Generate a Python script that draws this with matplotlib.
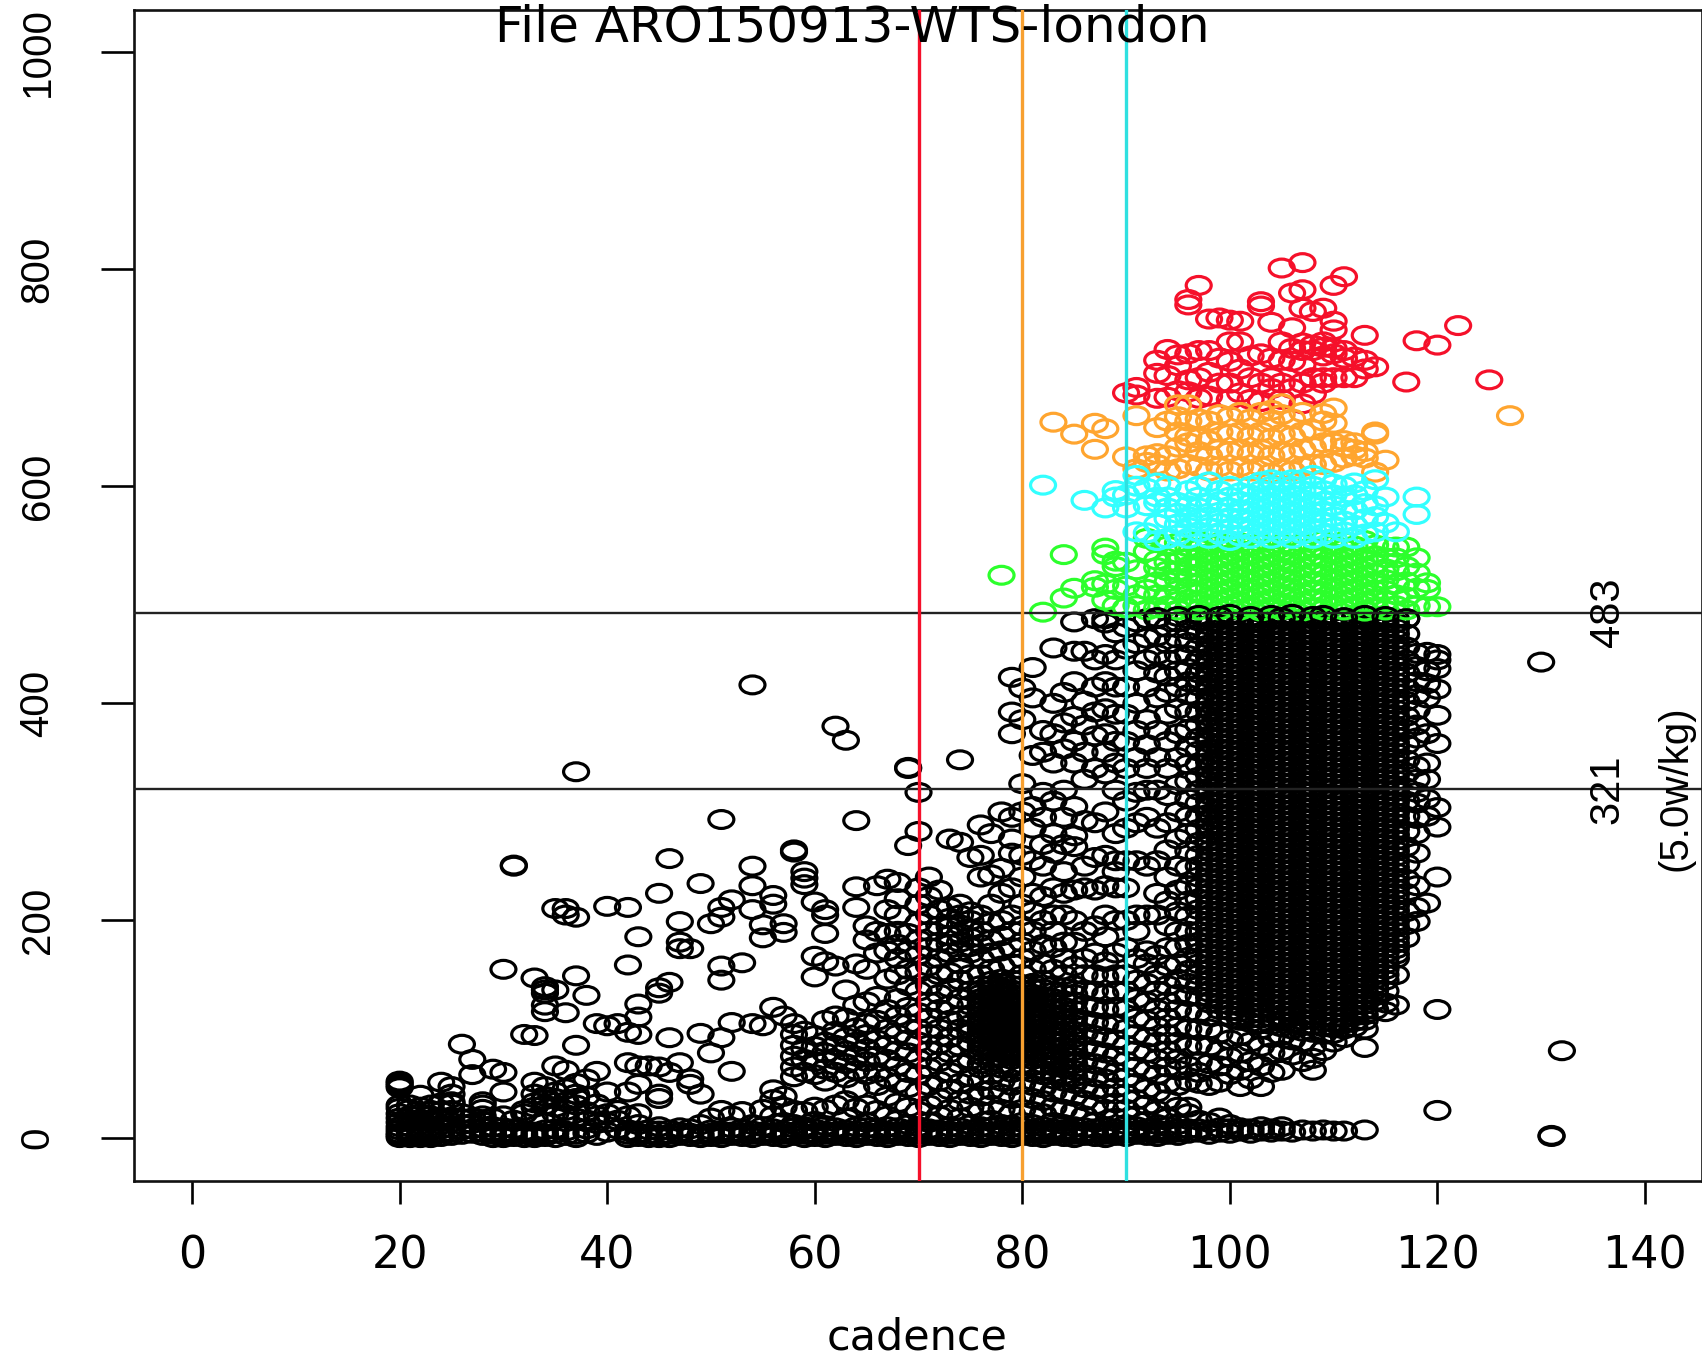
import re
import matplotlib
matplotlib.use("Agg")
import matplotlib.pyplot as plt
from matplotlib.markers import MarkerStyle
from matplotlib.transforms import Affine2D

# ---- values: power readings per cadence ----
title_text = "File ARO150913-WTS-london"
x_ticks = [0, 20, 40, 60, 80, 100, 120, 140]
y_ticks = [0, 200, 400, 600, 800, 1000]
vlines_cadence = [70, 80, 90]
vlines_colour = ["#f5102a", "#f7a030", "#2fe0e0"]
hlines_power = [483, 321]

# black points
k20 = [0, 2, 4, 7, 10, 14, 18, 22, 27, 30, 46, 48, 50, 52]
k21 = [0, 3, 6, 10, 15, 20, 26, 30]
k22 = [0, 2, 5, 8, 12, 17, 22, 28, 39]
k23 = [0, 1, 3, 6, 10, 15, 20, 25, 30]
k24 = [1, 4, 8, 12, 18, 24, 32, 51]
k25 = [2, 5, 9, 14, 19, 25, 31, 33, 40, 47]
k26 = [3, 7, 12, 17, 22, 86]
k27 = [4, 8, 13, 18, 58, 72]
k28 = [2, 5, 9, 15, 20, 26, 30, 33]
k29 = [0, 3, 6, 10, 18, 63]
k30 = [0, 2, 5, 9, 20, 42, 60, 155]
k31 = [1, 4, 8, 16, 250, 251]
k32 = [0, 3, 6, 22, 25, 95]
k33 = [0, 2, 5, 18, 28, 32, 40, 51, 94, 147]
k34 = [1, 3, 7, 30, 35, 38, 47, 116, 122, 133, 136, 139]
k35 = [0, 4, 8, 22, 28, 36, 42, 66, 136, 211]
k36 = [2, 6, 20, 25, 33, 45, 62, 115, 205, 211]
k37 = [0, 3, 18, 30, 36, 40, 50, 85, 149, 203, 337]
k38 = [4, 8, 15, 24, 38, 54, 131]
k39 = [2, 13, 20, 31, 61, 105]
k40 = [5, 14, 22, 42, 103, 213]
k41 = [8, 16, 25, 105]
k42 = [0, 3, 6, 20, 42, 69, 97, 159, 212]
k43 = [1, 4, 12, 22, 49, 66, 95, 111, 123, 185]
k44 = [0, 3, 7, 66]
k45 = [0, 2, 6, 10, 36, 40, 65, 133, 138, 225]
k46 = [0, 3, 7, 60, 92, 143, 257]
k47 = [2, 5, 9, 69, 174, 180, 199]
k48 = [1, 4, 8, 49, 54, 174]
k49 = [0, 3, 12, 40, 96, 234]
k50 = [1, 4, 7, 18, 78, 197]
k51 = [0, 3, 6, 25, 92, 145, 158, 203, 212, 293]
k52 = [2, 5, 9, 20, 61, 106, 219]
k53 = [1, 4, 8, 24, 161]
k54 = [0, 3, 6, 12, 105, 210, 232, 250, 417]
k55 = [2, 5, 10, 26, 103, 184, 196]
k56 = [1, 4, 8, 20, 35, 44, 120, 215, 223]
k57 = [0, 3, 6, 14, 28, 38, 112, 189, 197]
k58 = [2, 5, 9, 12, 25, 56, 65, 75, 85, 95, 105, 263, 265]
k59 = [0, 3, 7, 10, 24, 60, 72, 82, 98, 233, 239, 245]
k60 = [1, 4, 8, 15, 28, 58, 70, 84, 94, 148, 167, 217]
k61 = [0, 3, 6, 11, 26, 52, 63, 78, 88, 108, 162, 188, 205, 210]
k62 = [2, 5, 9, 30, 60, 72, 85, 98, 112, 158, 379]
k63 = [1, 4, 7, 18, 34, 55, 68, 80, 92, 110, 136, 366]
k64 = [0, 3, 6, 10, 27, 45, 62, 75, 88, 101, 122, 160, 212, 231, 292]
k65 = [2, 5, 9, 14, 30, 58, 70, 82, 95, 105, 125, 155, 182, 195]
k66 = [1, 4, 8, 25, 48, 60, 75, 90, 108, 130, 170, 190, 232]
k67 = [0, 3, 6, 10, 20, 38, 55, 72, 85, 100, 118, 146, 172, 188, 210, 238]
k68 = [2, 5, 9, 16, 32, 50, 66, 80, 95, 112, 128, 150, 165, 178, 190, 205, 220, 235]
k69 = [1, 4, 7, 12, 28, 46, 60, 78, 90, 105, 120, 140, 155, 172, 188, 269, 340, 341]
k70 = [0, 3, 6, 10, 24, 42, 58, 72, 88, 100, 115, 135, 152, 168, 182, 198, 215, 230, 282, 318]
k71 = [2, 5, 8, 14, 30, 48, 64, 80, 95, 110, 125, 140, 158, 175, 190, 205, 222, 240]
k72 = [1, 4, 7, 20, 36, 52, 70, 86, 100, 118, 132, 150, 165, 180, 195, 210, 228]
k73 = [0, 3, 6, 10, 26, 44, 60, 78, 92, 108, 122, 138, 152, 170, 178, 186, 194, 202, 212, 275]
k74 = [2, 5, 9, 18, 34, 50, 68, 84, 100, 112, 128, 145, 160, 172, 180, 188, 196, 205, 215, 272, 348]
k75 = [1, 4, 7, 12, 28, 40, 56, 72, 88, 96, 104, 112, 122, 135, 150, 170, 176, 184, 192, 200, 208, 258]
k76 = [0, 3, 6, 10, 24, 38, 52, 64, 76, 84, 92, 100, 108, 116, 124, 132, 140, 150, 165, 178, 190, 205, 240, 260, 288]
k77 = [2, 5, 9, 16, 30, 44, 58, 70, 80, 88, 96, 104, 112, 120, 128, 136, 144, 155, 170, 182, 198, 215, 242, 280]
k78 = [1, 4, 7, 12, 26, 40, 52, 64, 74, 82, 90, 98, 106, 114, 122, 130, 138, 146, 158, 172, 186, 200, 225, 248, 300]
k79 = [0, 3, 6, 10, 22, 36, 48, 60, 72, 80, 88, 96, 104, 112, 120, 128, 136, 145, 160, 175, 190, 205, 230, 262, 275, 295, 372, 392, 424]
k80 = [2, 5, 9, 14, 26, 38, 50, 62, 74, 82, 90, 98, 106, 114, 122, 130, 140, 150, 165, 180, 195, 215, 240, 260, 300, 326, 385, 414]
k81 = [1, 4, 7, 12, 24, 36, 48, 60, 72, 84, 92, 100, 108, 116, 124, 132, 142, 155, 172, 190, 208, 225, 255, 285, 305, 352, 405, 433]
k82 = [0, 3, 6, 10, 22, 34, 46, 58, 68, 80, 90, 100, 110, 120, 130, 145, 160, 178, 200, 222, 250, 270, 295, 318, 355, 375]
k83 = [2, 5, 8, 14, 28, 42, 54, 66, 76, 88, 98, 108, 118, 128, 140, 155, 175, 190, 205, 230, 262, 280, 310, 345, 372, 400, 451]
k84 = [1, 4, 7, 12, 26, 40, 52, 64, 78, 90, 102, 114, 126, 138, 150, 165, 180, 205, 225, 245, 270, 295, 320, 358, 382, 410]
k85 = [0, 3, 6, 10, 24, 38, 50, 62, 74, 86, 98, 110, 125, 140, 158, 180, 200, 228, 268, 278, 305, 345, 365, 388, 420, 448, 475]
k86 = [2, 5, 9, 20, 34, 46, 58, 70, 84, 96, 108, 122, 136, 150, 165, 190, 230, 250, 292, 330, 355, 380, 402, 448]
k87 = [1, 4, 8, 14, 30, 44, 56, 68, 80, 94, 106, 120, 135, 150, 170, 195, 228, 258, 290, 340, 370, 392, 415, 440, 478]
k88 = [0, 3, 6, 10, 26, 40, 54, 66, 78, 92, 104, 118, 132, 148, 162, 185, 205, 232, 260, 300, 335, 355, 372, 395, 420, 445, 474, 478]
k89 = [2, 5, 8, 18, 32, 46, 60, 75, 90, 105, 120, 135, 150, 170, 200, 230, 245, 255, 280, 320, 345, 365, 390, 415, 440, 465]
k90 = [1, 4, 7, 12, 26, 40, 55, 70, 85, 100, 118, 135, 150, 175, 200, 230, 255, 285, 310, 340, 365, 390, 415, 450, 470]
k91 = [3, 6, 10, 20, 35, 50, 65, 80, 95, 110, 128, 145, 165, 190, 205, 255, 290, 318, 350, 375, 400, 430, 455, 475]
k92 = [2, 5, 8, 15, 30, 45, 62, 78, 92, 108, 125, 142, 160, 172, 205, 250, 295, 320, 340, 362, 385, 415, 440, 460, 478]
k93 = [1, 4, 7, 12, 25, 42, 58, 72, 88, 102, 118, 135, 150, 168, 205, 225, 255, 285, 320, 350, 375, 405, 428, 445, 462, 478]
k94 = [3, 6, 10, 18, 35, 50, 65, 80, 95, 110, 125, 140, 158, 175, 195, 218, 240, 265, 290, 315, 340, 365, 390, 410, 425, 440, 455, 470]
k95 = [2, 5, 8, 12, 28, 48, 62, 72, 88, 102, 118, 132, 146, 160, 175, 190, 208, 228, 250, 275, 300, 325, 350, 372, 395, 415, 430, 445, 460, 475]
k96 = [4, 8, 22, 28, 52, 66, 84, 100, 116, 130, 142, 154, 166, 178, 190, 204, 218, 232, 248, 264, 280, 296, 312, 328, 344, 360, 376, 392, 408, 420, 432, 444, 456, 468, 478]
k97 = [5, 8, 16, 50, 60, 70, 85, 100, 115, 130, 140, 150, 160, 170, 180, 190, 200, 210, 220, 230, 240, 250, 260, 272, 284, 296, 308, 320, 332, 344, 356, 368, 380, 392, 404, 416, 428, 440, 452, 464, 476]
k98 = [3, 7, 14, 48, 68, 84, 100, 112, 124, 134, 144, 154, 164, 174, 184, 194, 204, 214, 224, 234, 244, 254, 264, 274, 286, 298, 310, 322, 334, 346, 358, 370, 382, 394, 406, 418, 430, 442, 454, 466, 478]
k99 = [5, 9, 18, 51, 66, 80, 96, 118, 128, 138, 148, 158, 168, 178, 188, 198, 208, 218, 228, 238, 248, 258, 268, 278, 288, 298, 308, 318, 328, 338, 348, 358, 368, 378, 388, 398, 408, 418, 428, 438, 448, 458, 468, 478]
k100 = [4, 8, 12, 58, 74, 90, 112, 122, 132, 142, 152, 162, 172, 182, 192, 202, 212, 222, 232, 242, 252, 262, 272, 282, 292, 302, 312, 322, 332, 342, 352, 362, 372, 382, 392, 402, 412, 422, 432, 442, 452, 462, 472]
k101 = [6, 9, 47, 62, 78, 94, 108, 116, 126, 136, 146, 156, 166, 176, 186, 196, 206, 216, 226, 236, 246, 256, 266, 276, 286, 296, 306, 316, 326, 336, 346, 356, 366, 376, 386, 396, 406, 416, 426, 436, 446, 456, 466, 476]
k102 = [4, 8, 54, 70, 88, 106, 114, 124, 134, 144, 154, 164, 174, 184, 194, 204, 214, 224, 234, 244, 254, 264, 274, 284, 294, 304, 314, 324, 334, 344, 354, 364, 374, 384, 394, 404, 414, 424, 434, 444, 454, 464, 474]
k103 = [6, 10, 47, 66, 84, 100, 110, 120, 130, 140, 150, 160, 170, 180, 190, 200, 210, 220, 230, 240, 250, 260, 270, 280, 290, 300, 310, 320, 330, 340, 350, 360, 370, 380, 390, 400, 410, 420, 430, 440, 450, 460, 470, 478]
k104 = [5, 8, 60, 78, 92, 104, 118, 128, 138, 148, 158, 168, 178, 188, 198, 208, 218, 228, 238, 248, 258, 268, 278, 288, 298, 308, 318, 328, 338, 348, 358, 368, 378, 388, 398, 408, 418, 428, 438, 448, 458, 468, 478]
k105 = [6, 10, 62, 80, 94, 102, 112, 122, 132, 142, 152, 162, 172, 182, 192, 202, 212, 222, 232, 242, 252, 262, 272, 282, 292, 302, 312, 322, 332, 342, 352, 362, 372, 382, 392, 402, 412, 422, 432, 442, 452, 462, 472]
k106 = [5, 76, 90, 100, 106, 116, 126, 136, 146, 156, 166, 176, 186, 196, 206, 216, 226, 236, 246, 256, 266, 276, 286, 296, 306, 316, 326, 336, 346, 356, 366, 376, 386, 396, 406, 416, 426, 436, 446, 456, 466, 476]
k107 = [7, 70, 88, 98, 108, 118, 128, 138, 148, 158, 168, 178, 188, 198, 208, 218, 228, 238, 248, 258, 268, 278, 288, 298, 308, 318, 328, 338, 348, 358, 368, 378, 388, 398, 408, 418, 428, 438, 448, 458, 468, 478]
k108 = [6, 62, 73, 84, 97, 104, 114, 124, 134, 144, 154, 164, 174, 184, 194, 204, 214, 224, 234, 244, 254, 264, 274, 284, 294, 304, 314, 324, 334, 344, 354, 364, 374, 384, 394, 404, 414, 424, 434, 444, 454, 464, 474]
k109 = [7, 80, 95, 102, 112, 122, 132, 142, 152, 162, 172, 182, 192, 202, 212, 222, 232, 242, 252, 262, 272, 282, 292, 302, 312, 322, 332, 342, 352, 362, 372, 382, 392, 402, 412, 422, 432, 442, 452, 462, 472, 478]
k110 = [6, 88, 96, 106, 116, 126, 136, 146, 156, 166, 176, 186, 196, 206, 216, 226, 236, 246, 256, 266, 276, 286, 296, 306, 316, 326, 336, 346, 356, 366, 376, 386, 396, 406, 416, 426, 436, 446, 456, 466, 476]
k111 = [6, 92, 100, 110, 120, 130, 140, 150, 160, 170, 180, 190, 200, 210, 220, 230, 240, 250, 260, 270, 280, 290, 300, 310, 320, 330, 340, 350, 360, 370, 380, 390, 400, 410, 420, 430, 440, 450, 460, 470, 478]
k112 = [102, 112, 122, 132, 142, 152, 162, 172, 182, 192, 202, 212, 222, 232, 242, 252, 262, 272, 282, 292, 302, 312, 322, 332, 342, 352, 362, 372, 382, 392, 402, 412, 422, 432, 442, 452, 462, 472]
k113 = [7, 83, 100, 108, 118, 128, 138, 148, 158, 168, 178, 188, 198, 208, 218, 228, 238, 248, 258, 268, 278, 288, 298, 308, 318, 328, 338, 348, 358, 368, 378, 388, 398, 408, 418, 428, 438, 448, 458, 468, 478]
k114 = [118, 126, 136, 146, 156, 166, 176, 186, 196, 206, 216, 226, 236, 246, 256, 266, 276, 286, 296, 306, 316, 326, 336, 346, 356, 366, 376, 386, 396, 406, 416, 426, 436, 446, 456, 466, 476]
k115 = [116, 124, 135, 150, 160, 170, 180, 190, 200, 210, 220, 230, 240, 250, 260, 270, 280, 290, 300, 310, 320, 330, 340, 350, 360, 370, 380, 390, 400, 410, 420, 430, 440, 450, 460, 470, 478]
k116 = [122, 150, 165, 174, 184, 194, 204, 214, 224, 234, 244, 254, 264, 274, 284, 294, 304, 314, 324, 334, 344, 354, 364, 374, 384, 394, 404, 414, 424, 434, 444, 454, 464, 474]
k117 = [184, 196, 208, 225, 238, 252, 268, 282, 296, 310, 322, 336, 348, 362, 376, 388, 402, 414, 428, 440, 452, 464, 478]
k118 = [199, 212, 232, 262, 280, 294, 308, 318, 330, 342, 368, 380, 394, 408, 420, 434, 446]
k119 = [216, 296, 312, 330, 345, 372, 405, 418, 430, 447]
k120 = [25, 118, 240, 286, 304, 363, 389, 413, 432, 440, 445]
k130 = [438]
k131 = [1, 2]
k132 = [80]

# further black readings in the solid part of the cloud
kb98 = [129, 139, 149, 159, 169, 179, 189, 199, 209, 219, 229, 239, 249, 259, 269, 280, 292, 304, 316, 328, 340, 352, 364, 376, 388, 400, 412, 424, 436, 448, 460, 472]
kb99 = [123, 133, 143, 153, 163, 173, 183, 193, 203, 213, 223, 233, 243, 253, 263, 273, 283, 293, 303, 313, 323, 333, 343, 353, 363, 373, 383, 393, 403, 413, 423, 433, 443, 453, 463, 473]
kb100 = [117, 127, 137, 147, 157, 167, 177, 187, 197, 207, 217, 227, 237, 247, 257, 267, 277, 287, 297, 307, 317, 327, 337, 347, 357, 367, 377, 387, 397, 407, 417, 427, 437, 447, 457, 467, 477]
kb101 = [112, 121, 131, 141, 151, 161, 171, 181, 191, 201, 211, 221, 231, 241, 251, 261, 271, 281, 291, 301, 311, 321, 331, 341, 351, 361, 371, 381, 391, 401, 411, 421, 431, 441, 451, 461, 471]
kb102 = [110, 119, 129, 139, 149, 159, 169, 179, 189, 199, 209, 219, 229, 239, 249, 259, 269, 279, 289, 299, 309, 319, 329, 339, 349, 359, 369, 379, 389, 399, 409, 419, 429, 439, 449, 459, 469, 478]
kb103 = [105, 115, 125, 135, 145, 155, 165, 175, 185, 195, 205, 215, 225, 235, 245, 255, 265, 275, 285, 295, 305, 315, 325, 335, 345, 355, 365, 375, 385, 395, 405, 415, 425, 435, 445, 455, 465, 475]
kb104 = [111, 123, 133, 143, 153, 163, 173, 183, 193, 203, 213, 223, 233, 243, 253, 263, 273, 283, 293, 303, 313, 323, 333, 343, 353, 363, 373, 383, 393, 403, 413, 423, 433, 443, 453, 463, 473]
kb105 = [107, 117, 127, 137, 147, 157, 167, 177, 187, 197, 207, 217, 227, 237, 247, 257, 267, 277, 287, 297, 307, 317, 327, 337, 347, 357, 367, 377, 387, 397, 407, 417, 427, 437, 447, 457, 467, 477]
kb106 = [111, 121, 131, 141, 151, 161, 171, 181, 191, 201, 211, 221, 231, 241, 251, 261, 271, 281, 291, 301, 311, 321, 331, 341, 351, 361, 371, 381, 391, 401, 411, 421, 431, 441, 451, 461, 471]
kb107 = [103, 113, 123, 133, 143, 153, 163, 173, 183, 193, 203, 213, 223, 233, 243, 253, 263, 273, 283, 293, 303, 313, 323, 333, 343, 353, 363, 373, 383, 393, 403, 413, 423, 433, 443, 453, 463, 473]
kb108 = [109, 119, 129, 139, 149, 159, 169, 179, 189, 199, 209, 219, 229, 239, 249, 259, 269, 279, 289, 299, 309, 319, 329, 339, 349, 359, 369, 379, 389, 399, 409, 419, 429, 439, 449, 459, 469, 478]
kb109 = [107, 117, 127, 137, 147, 157, 167, 177, 187, 197, 207, 217, 227, 237, 247, 257, 267, 277, 287, 297, 307, 317, 327, 337, 347, 357, 367, 377, 387, 397, 407, 417, 427, 437, 447, 457, 467]
kb110 = [101, 111, 121, 131, 141, 151, 161, 171, 181, 191, 201, 211, 221, 231, 241, 251, 261, 271, 281, 291, 301, 311, 321, 331, 341, 351, 361, 371, 381, 391, 401, 411, 421, 431, 441, 451, 461, 471]
kb111 = [105, 115, 125, 135, 145, 155, 165, 175, 185, 195, 205, 215, 225, 235, 245, 255, 265, 275, 285, 295, 305, 315, 325, 335, 345, 355, 365, 375, 385, 395, 405, 415, 425, 435, 445, 455, 465, 475]
kb112 = [107, 117, 127, 137, 147, 157, 167, 177, 187, 197, 207, 217, 227, 237, 247, 257, 267, 277, 287, 297, 307, 317, 327, 337, 347, 357, 367, 377, 387, 397, 407, 417, 427, 437, 447, 457, 467, 477]
kb113 = [113, 123, 133, 143, 153, 163, 173, 183, 193, 203, 213, 223, 233, 243, 253, 263, 273, 283, 293, 303, 313, 323, 333, 343, 353, 363, 373, 383, 393, 403, 413, 423, 433, 443, 453, 463, 473]
kb114 = [131, 141, 151, 161, 171, 181, 191, 201, 211, 221, 231, 241, 251, 261, 271, 281, 291, 301, 311, 321, 331, 341, 351, 361, 371, 381, 391, 401, 411, 421, 431, 441, 451, 461, 471]
kb115 = [145, 155, 165, 175, 185, 195, 205, 215, 225, 235, 245, 255, 265, 275, 285, 295, 305, 315, 325, 335, 345, 355, 365, 375, 385, 395, 405, 415, 425, 435, 445, 455, 465, 475]
kb116 = [169, 179, 189, 199, 209, 219, 229, 239, 249, 259, 269, 279, 289, 299, 309, 319, 329, 339, 349, 359, 369, 379, 389, 399, 409, 419, 429, 439, 449, 459, 469, 478]
kb76 = [68, 80, 88, 96, 104, 112, 120, 128, 136]
kb77 = [74, 84, 92, 100, 108, 116, 124, 132, 140]
kb78 = [68, 78, 86, 94, 102, 110, 118, 126, 134, 142]
kb79 = [66, 76, 84, 92, 100, 108, 116, 124, 132, 140]
kb80 = [68, 78, 86, 94, 102, 110, 118, 126, 135]
kb81 = [66, 78, 88, 96, 104, 112, 120, 128, 137]
kb82 = [62, 74, 85, 95, 105, 115, 125, 137]
kb83 = [60, 71, 82, 93, 103, 113, 123, 134]
kb84 = [58, 71, 84, 96, 108, 120, 132]
kb85 = [56, 68, 80, 92, 104, 117, 132]

# black readings that lie over the green band at the 483 line
top_cadence = [93, 95, 97, 99, 100, 102, 104, 105, 106, 108, 109, 111, 113, 115, 117]
top_power = [479, 480, 481, 480, 482, 480, 481, 479, 482, 480, 481, 479, 481, 480, 478]

# green points
g78 = [518]
g82 = [484]
g84 = [497, 537]
g85 = [506]
g87 = [507, 513]
g88 = [495, 537, 543, 510]
g89 = [505, 531, 526, 490]
g90 = [488, 508, 530]
g91 = [523, 500, 490]
g92 = [486, 505, 540, 552]
g93 = [488, 500, 512, 525, 532, 548]
g94 = [490, 500, 512, 522, 530, 545]
g95 = [486, 494, 504, 514, 522, 530, 538, 548]
g96 = [488, 496, 506, 516, 526, 534, 544]
g97 = [486, 494, 502, 510, 518, 526, 534, 542, 550]
g98 = [490, 498, 506, 514, 522, 530, 538, 546]
g99 = [486, 494, 502, 510, 518, 526, 534, 542, 548]
g100 = [490, 497, 505, 513, 521, 529, 537, 545]
g101 = [486, 493, 501, 509, 517, 525, 533, 541, 548]
g102 = [489, 497, 505, 513, 521, 529, 537, 545]
g103 = [485, 493, 501, 509, 517, 525, 533, 541, 548]
g104 = [488, 496, 504, 512, 520, 528, 536, 544]
g105 = [486, 492, 500, 508, 516, 524, 532, 540, 547]
g106 = [489, 497, 505, 513, 521, 529, 537, 545]
g107 = [485, 493, 501, 509, 517, 525, 533, 541, 548]
g108 = [488, 496, 504, 512, 520, 528, 536, 544]
g109 = [486, 494, 502, 510, 518, 526, 534, 542, 550]
g110 = [490, 498, 506, 514, 522, 530, 538, 546]
g111 = [486, 494, 502, 510, 518, 526, 534, 542, 549]
g112 = [489, 497, 505, 513, 521, 529, 537, 545]
g113 = [485, 493, 501, 509, 517, 525, 533, 541, 550]
g114 = [488, 496, 504, 512, 520, 528, 536, 546]
g115 = [486, 494, 504, 514, 524, 534, 544]
g116 = [490, 500, 510, 522, 534, 544]
g117 = [486, 498, 512, 526, 544]
g118 = [490, 506, 520, 534]
g119 = [489, 505, 511]
g120 = [489]

# cyan points
c82 = [601]
c86 = [587]
c88 = [580]
c89 = [596, 590]
c90 = [580, 592]
c91 = [558, 600, 610]
c92 = [557, 582, 598]
c93 = [550, 565, 585, 590, 603]
c94 = [552, 570, 580, 590, 600]
c95 = [555, 565, 575, 585]
c96 = [552, 562, 572, 582, 596]
c97 = [558, 570, 580, 590, 600]
c98 = [552, 562, 572, 584, 604]
c99 = [556, 566, 576, 586, 596]
c100 = [550, 560, 570, 580, 590, 600]
c101 = [554, 562, 570, 578, 586, 594]
c102 = [552, 560, 568, 576, 584, 592, 600]
c103 = [556, 564, 572, 580, 588, 596, 604]
c104 = [552, 560, 568, 576, 584, 592, 600, 606]
c105 = [556, 564, 572, 580, 588, 596, 604]
c106 = [552, 560, 568, 576, 584, 592, 600, 606]
c107 = [556, 564, 572, 580, 588, 596, 606]
c108 = [552, 560, 568, 576, 584, 592, 600, 610]
c109 = [556, 566, 576, 586, 596, 606]
c110 = [552, 562, 572, 582, 592, 602]
c111 = [558, 568, 578, 590, 600]
c112 = [552, 564, 578, 592, 603]
c113 = [556, 570, 584, 596]
c114 = [558, 572, 582, 606]
c115 = [590, 566]
c116 = [558]
c118 = [574, 590]

# red points
r90 = [686]
r91 = [684, 691]
r93 = [681, 704, 716]
r94 = [682, 702, 726]
r95 = [688, 711, 721]
r96 = [687, 698, 722, 767, 772]
r97 = [681, 700, 725, 785]
r98 = [683, 705, 725, 754]
r99 = [695, 718, 755]
r100 = [680, 695, 715, 733, 753]
r101 = [686, 708, 733, 752]
r102 = [680, 700, 720]
r103 = [678, 695, 722, 766, 770]
r104 = [690, 700, 718, 751]
r105 = [680, 695, 716, 733, 801]
r106 = [690, 715, 727, 746, 778]
r107 = [676, 695, 712, 725, 732, 764, 781, 806]
r108 = [685, 700, 725, 730, 761]
r109 = [695, 700, 720, 728, 733, 764]
r110 = [700, 722, 727, 744, 752, 785]
r111 = [700, 718, 725, 793]
r112 = [700, 719]
r113 = [708, 716, 739]
r114 = [710]
r117 = [696]
r118 = [734]
r120 = [730]
r122 = [748]
r125 = [698]

# orange points
o83 = [659]
o85 = [648]
o87 = [634, 658]
o88 = [653]
o90 = [627]
o91 = [616, 665]
o92 = [622, 628]
o93 = [620, 630, 654]
o94 = [614, 628, 660]
o95 = [616, 636, 650, 664, 675]
o96 = [620, 640, 646, 660, 675]
o97 = [618, 632, 644, 662]
o98 = [614, 628, 642, 660]
o99 = [618, 634, 650, 666]
o100 = [614, 632, 648, 664]
o101 = [618, 634, 650, 668]
o102 = [614, 630, 646, 662]
o103 = [618, 634, 650, 668]
o104 = [612, 628, 644, 660, 670]
o105 = [616, 632, 648, 666, 676]
o106 = [614, 630, 646, 662]
o107 = [618, 634, 650, 668]
o108 = [620, 636, 652]
o109 = [620, 640, 660, 667]
o110 = [622, 640, 658, 672]
o111 = [626, 636, 642]
o112 = [628, 634, 640]
o113 = [632, 626]
o114 = [613, 648, 650]
o115 = [624]
o127 = [665]


def gather(prefix):
    cadence, power = [], []
    for name, values in list(globals().items()):
        match = re.fullmatch(prefix + r"b?(\d+)", name)
        if match:
            cadence += [int(match.group(1))] * len(values)
            power += values
    return cadence, power


# ---- drawing ----
fig = plt.figure(figsize=(17.02, 13.61), dpi=100, facecolor="white")
W, H = 1702.0, 1361.0
ax = fig.add_axes([134 / W, (H - 1181) / H, (W - 134) / W, (1181 - 10) / H])
ax.set_xlim(-5.6, 145.5)
ax.set_ylim(-40, 1038.7)

ring = MarkerStyle("o", transform=Affine2D().scale(1.4, 1.0))
style = dict(marker=ring, s=165, facecolors="none", linewidths=2.3, clip_on=True)

ax.scatter(*gather("k"), edgecolors="black", zorder=2, **style)
ax.scatter(*gather("g"), edgecolors="#2cff2c", zorder=3, **style)
ax.scatter(top_cadence, top_power, edgecolors="black", zorder=3.1, **style)
ax.scatter(*gather("r"), edgecolors="#f5102a", zorder=3.2, **style)
ax.scatter(*gather("o"), edgecolors="#ffa52f", zorder=3.3, **style)
ax.scatter(*gather("c"), edgecolors="#33ffff", zorder=3.4, **style)

for p in hlines_power:
    ax.axhline(p, color="#222222", lw=1.7, zorder=4)
for c, col in zip(vlines_cadence, vlines_colour):
    ax.axvline(c, color=col, lw=2.4, zorder=4.5)

for s in ax.spines.values():
    s.set_linewidth(1.9)
    s.set_color("#111111")

ax.set_xticks(x_ticks)
ax.set_yticks(y_ticks)
ax.tick_params(axis="x", length=16.6, width=1.9, pad=22, labelsize=32)
ax.tick_params(axis="y", length=23.8, width=1.9, pad=32, labelsize=29)
narrow = ["Liberation Sans Narrow", "Liberation Sans"]
for t in ax.get_yticklabels():
    t.set_rotation(90)
    t.set_va("center")
    t.set_family(narrow)

fig.text(917 / W, (H - 1350) / H, "cadence", fontsize=31, ha="center", va="baseline")

ax.text((852 - 134) / (W - 134), 1 - (27 - 10) / (1181 - 10), title_text,
        transform=ax.transAxes, fontsize=36, ha="center", va="center", zorder=6)

ax.text(136.4, 484, "483", rotation=90, ha="center", va="center", fontsize=30, family=narrow, zorder=6)
ax.text(136.4, 321, "321", rotation=90, ha="center", va="center", fontsize=30, family=narrow, zorder=6)
ax.text(142.9, 322, "(5.0w/kg)", rotation=90, ha="center", va="center", fontsize=29, family=narrow, zorder=6)

fig.savefig("out.png", dpi=100, facecolor="white")
